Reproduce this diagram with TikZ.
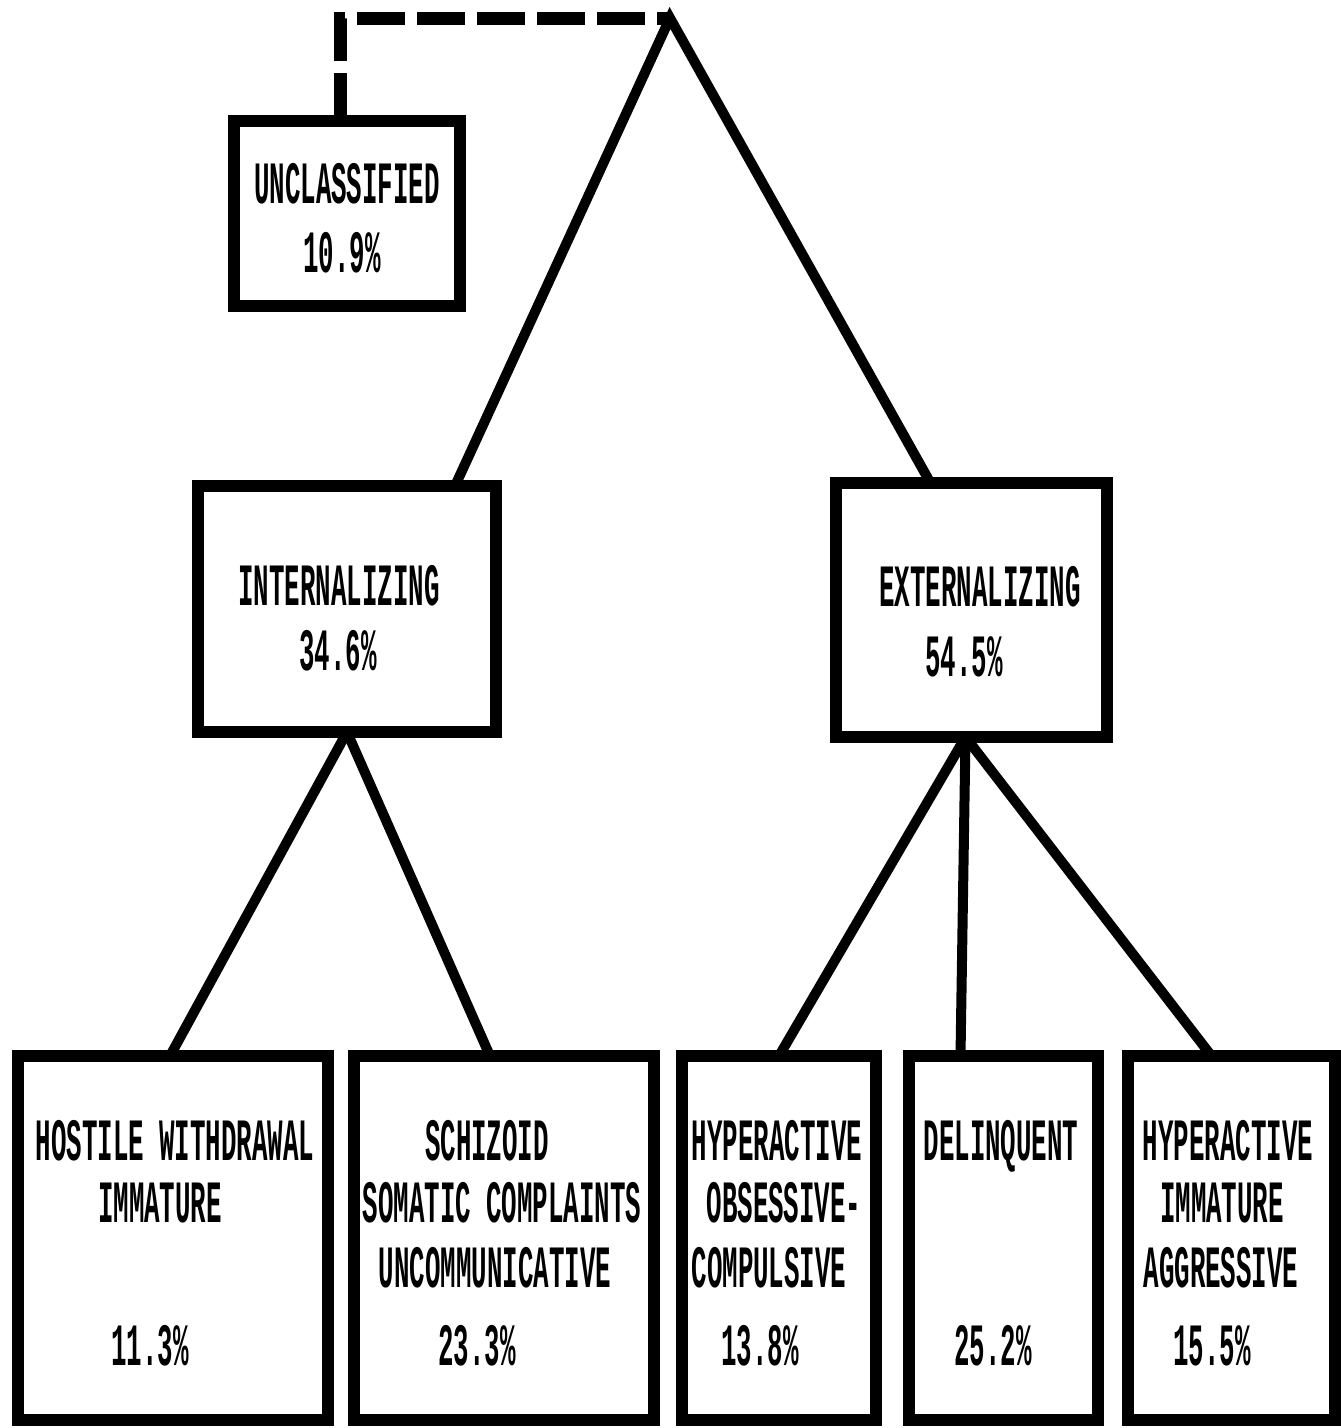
\documentclass[tikz,border=0pt]{standalone}
\usepackage{fontspec}
\newfontfamily\typefont[FakeStretch=0.43]{Liberation Mono}
\begin{document}
\begin{tikzpicture}[x=1pt,y=-1pt,
  box/.style={draw,rectangle,line width=12pt,inner sep=0pt,outer sep=0pt},
  conn/.style={line width=10pt},
  dashconn/.style={line width=13pt,dash pattern=on 48pt off 12pt},
  txt/.style={anchor=base,inner sep=0pt,font=\typefont\bfseries\fontsize{60}{72}\selectfont}]
\useasboundingbox (0,0) rectangle (1341,1428);
\fill[white] (0,0) rectangle (1341,1428);
% boxes
\node[box,minimum width=226pt,minimum height=185pt] (unc) at (347,213.5) {};
\node[box,minimum width=298pt,minimum height=246pt] (int) at (347,609) {};
\node[box,minimum width=271pt,minimum height=254pt] (ext) at (971.5,610) {};
\node[box,minimum width=310pt,minimum height=364pt] (hw) at (173,1238) {};
\node[box,minimum width=300pt,minimum height=364pt] (sch) at (504,1238) {};
\node[box,minimum width=194pt,minimum height=364pt] (hoc) at (779,1238) {};
\node[box,minimum width=189pt,minimum height=364pt] (del) at (1003.5,1238) {};
\node[box,minimum width=207pt,minimum height=364pt] (hia) at (1231.5,1238) {};
\coordinate (apex) at (670,18);
% connectors
\draw[dashconn] ([xshift=-7pt]unc.north) |- (apex);
\draw[conn,line join=miter] ([xshift=108pt]int.north) -- (apex) -- ([xshift=-41pt]ext.north);
\draw[conn] (int.south) -- ([xshift=-3pt]hw.north);
\draw[conn] (int.south) -- ([xshift=-14pt]sch.north);
\draw[conn] ([xshift=-6pt]ext.south) -- (hoc.north);
\draw[conn] ([xshift=-6pt]ext.south) -- ([xshift=-43pt]del.north);
\draw[conn] ([xshift=-6pt]ext.south) -- ([xshift=-20pt]hia.north);
% texts
\node[txt] (unc1) at (347,203) {UNCLASSIFIED};
\node[txt] (unc2) at (342,272) {10.9\%};
\node[txt] (int1) at (339,605) {INTERNALIZING};
\node[txt] (int2) at (338,670) {34.6\%};
\node[txt] (ext1) at (980,606) {EXTERNALIZING};
\node[txt] (ext2) at (964,676) {54.5\%};
\node[txt] (hw1) at (175,1160) {HOSTILE WITHDRAWAL};
\node[txt] (hw2) at (160,1222) {IMMATURE};
\node[txt] (hw3) at (150,1365) {11.3\%};
\node[txt] (sch1) at (487,1160) {SCHIZOID};
\node[txt] (sch2) at (502,1222) {SOMATIC COMPLAINTS};
\node[txt] (sch3) at (495,1287) {UNCOMMUNICATIVE};
\node[txt] (sch4) at (477,1365) {23.3\%};
\node[txt] (hoc1) at (777,1160) {HYPERACTIVE};
\node[txt] (hoc2) at (784,1222) {OBSESSIVE-};
\node[txt] (hoc3) at (769,1287) {COMPULSIVE};
\node[txt] (hoc4) at (760,1365) {13.8\%};
\node[txt] (del1) at (1001,1160) {DELINQUENT};
\node[txt] (del2) at (993,1365) {25.2\%};
\node[txt] (hia1) at (1228,1160) {HYPERACTIVE};
\node[txt] (hia2) at (1222,1222) {IMMATURE};
\node[txt] (hia3) at (1221,1287) {AGGRESSIVE};
\node[txt] (hia4) at (1212,1365) {15.5\%};
\end{tikzpicture}
\end{document}
